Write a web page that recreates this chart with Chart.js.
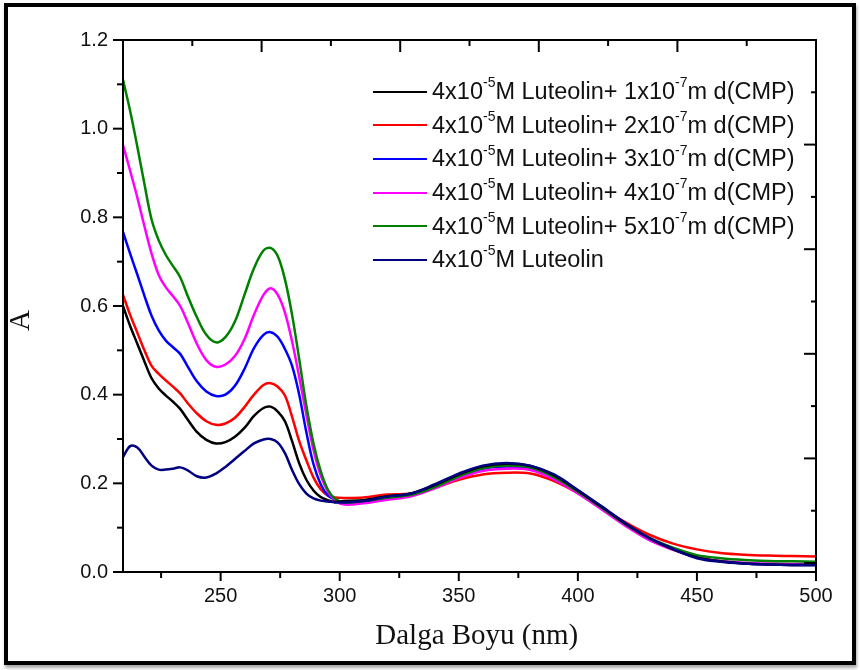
<!DOCTYPE html>
<html>
<head>
<meta charset="utf-8">
<title>Luteolin + d(CMP) absorbance</title>
<script src="https://cdn.jsdelivr.net/npm/chart.js@4.4.1/dist/chart.umd.min.js"></script>
<style>
  html, body { margin: 0; padding: 0; background: #fff; overflow: hidden; }
  #wrap { position: relative; width: 860px; height: 670px; }
  #frame { position: absolute; left: 4px; top: 3px; width: 844px; height: 654px;
           border: 4px solid #000; box-shadow: 1px 3px 3px rgba(0,0,0,0.35); pointer-events: none; }
  #legend { position: absolute; left: 373px; top: 75px; color: #111;
            font-family: 'Liberation Sans', Arial, sans-serif; font-size: 23.5px; }
  .row { display: flex; align-items: center; height: 33.6px; white-space: nowrap; }
  .swatch { width: 54px; height: 0; border-top: 2.5px solid; margin-right: 5px; }
  .row sup { font-size: 14px; position: relative; top: -3px; line-height: 0; vertical-align: super; }
</style>
</head>
<body>
<div id="wrap">
  <canvas id="spectrum" width="860" height="670"></canvas>
  <div id="legend"></div>
  <div id="frame"></div>
</div>
<script>
// wavelength (nm)
const wavelengths = [209, 212, 215, 218, 221, 224, 227, 230, 233, 236,
                     240, 244, 248, 252, 256, 260, 264, 268,
                     271, 274, 277, 280, 283, 286, 289, 292, 295, 298,
                     302,
                     310, 320, 330, 340, 350, 360, 370, 380, 390, 400,
                     410, 420, 430, 440, 450, 460, 470, 480, 490, 500];

// absorbance per solution
const cmp1 = [0.600, 0.555, 0.515, 0.475, 0.437, 0.414, 0.398, 0.384, 0.368, 0.345,
              0.316, 0.298, 0.290, 0.293, 0.305, 0.325, 0.352, 0.370,
              0.373, 0.362, 0.340, 0.295, 0.245, 0.208, 0.184, 0.169, 0.162, 0.158,
              0.160,
              0.162, 0.171, 0.177, 0.196, 0.220, 0.238, 0.244, 0.239, 0.218, 0.184,
              0.147, 0.109, 0.076, 0.051, 0.033, 0.024, 0.019, 0.017, 0.016, 0.016];
const cmp2 = [0.625, 0.580, 0.540, 0.500, 0.465, 0.447, 0.432, 0.418, 0.403, 0.382,
              0.358, 0.340, 0.332, 0.335, 0.348, 0.372, 0.400, 0.422,
              0.426, 0.418, 0.398, 0.350, 0.295, 0.252, 0.213, 0.187, 0.173, 0.168,
              0.167,
              0.168, 0.175, 0.177, 0.190, 0.208, 0.220, 0.224, 0.222, 0.205, 0.178,
              0.145, 0.112, 0.084, 0.064, 0.051, 0.043, 0.039, 0.037, 0.036, 0.035];
const cmp3 = [0.767, 0.718, 0.671, 0.623, 0.578, 0.545, 0.522, 0.507, 0.492, 0.465,
              0.430, 0.407, 0.397, 0.400, 0.420, 0.458, 0.505, 0.535,
              0.541, 0.530, 0.503, 0.465, 0.400, 0.315, 0.243, 0.198, 0.173, 0.163,
              0.155,
              0.158, 0.166, 0.174, 0.193, 0.216, 0.233, 0.238, 0.234, 0.213, 0.180,
              0.144, 0.106, 0.074, 0.051, 0.033, 0.024, 0.019, 0.017, 0.016, 0.016];
const cmp4 = [0.963, 0.905, 0.845, 0.780, 0.718, 0.670, 0.642, 0.622, 0.600, 0.565,
              0.515, 0.478, 0.463, 0.468, 0.487, 0.525, 0.580, 0.625,
              0.640, 0.625, 0.585, 0.520, 0.440, 0.355, 0.275, 0.218, 0.182, 0.162,
              0.152,
              0.155, 0.163, 0.171, 0.189, 0.212, 0.228, 0.233, 0.230, 0.209, 0.177,
              0.141, 0.104, 0.072, 0.050, 0.033, 0.025, 0.021, 0.019, 0.018, 0.018];
const cmp5 = [1.110, 1.040, 0.960, 0.875, 0.795, 0.748, 0.715, 0.690, 0.665, 0.625,
              0.575, 0.535, 0.518, 0.530, 0.565, 0.625, 0.685, 0.725,
              0.731, 0.712, 0.660, 0.580, 0.480, 0.375, 0.290, 0.228, 0.186, 0.165,
              0.157,
              0.160, 0.168, 0.174, 0.192, 0.216, 0.234, 0.240, 0.236, 0.214, 0.181,
              0.145, 0.108, 0.077, 0.055, 0.038, 0.031, 0.027, 0.025, 0.024, 0.023];
const luteolin = [0.259, 0.284, 0.281, 0.260, 0.240, 0.231, 0.231, 0.233, 0.236, 0.230,
                  0.216, 0.213, 0.222, 0.237, 0.255, 0.273, 0.290, 0.299,
                  0.300, 0.292, 0.268, 0.230, 0.198, 0.177, 0.166, 0.161, 0.159, 0.157,
                  0.157,
                  0.160, 0.170, 0.177, 0.198, 0.222, 0.240, 0.246, 0.240, 0.220, 0.185,
                  0.148, 0.110, 0.077, 0.052, 0.031, 0.023, 0.019, 0.017, 0.016, 0.016];

// axis ticks
const xTicks = [250, 300, 350, 400, 450, 500];
const xMinor = [225, 275, 325, 375, 425, 475];
const yTicks = [0, 0.2, 0.4, 0.6, 0.8, 1.0, 1.2];
const yMinor = [0.1, 0.3, 0.5, 0.7, 0.9, 1.1];

// legend: d(CMP) multiplier (null = luteolin alone)
const seriesNames = ['1', '2', '3', '4', '5', null];
const seriesColors = ['#000000', '#ff0000', '#0000ff', '#ff00ff', '#008000', '#000080'];
const seriesData = [cmp1, cmp2, cmp3, cmp4, cmp5, luteolin];
// navy drawn on top, then black, green, magenta, blue, red
const seriesOrder = [1, 5, 4, 3, 2, 0];

function toPoints(values) {
    return values.map((v, i) => ({ x: wavelengths[i], y: v }));
}

// Axis box and tick marks, positioned with the chart's scales
const axisFrame = {
    id: 'axisFrame',
    afterDraw(chart) {
        const { ctx, chartArea: a, scales } = chart;
        ctx.save();
        ctx.strokeStyle = '#000';
        ctx.lineWidth = 2;
        ctx.strokeRect(a.left, a.top, a.right - a.left, a.bottom - a.top);

        const line = (x1, y1, x2, y2) => {
            ctx.beginPath();
            ctx.moveTo(x1, y1);
            ctx.lineTo(x2, y2);
            ctx.stroke();
        };

        // bottom (outward)
        xTicks.forEach(v => { const p = scales.x.getPixelForValue(v); line(p, a.bottom, p, a.bottom + 9); });
        xMinor.forEach(v => { const p = scales.x.getPixelForValue(v); line(p, a.bottom, p, a.bottom + 6); });
        // left (outward)
        yTicks.forEach(v => { const p = scales.y.getPixelForValue(v); line(a.left - 10, p, a.left, p); });
        yMinor.forEach(v => { const p = scales.y.getPixelForValue(v); line(a.left - 6, p, a.left, p); });
        // top (inward) - separate scale
        for (let v = 1; v < 10; v++) {
            const p = scales.xTop.getPixelForValue(v);
            line(p, a.top, p, a.top + (v % 2 === 0 ? 12 : 6));
        }
        // right (inward) - separate scale
        for (let v = 0; v < 10; v++) {
            const p = scales.yRight.getPixelForValue(v);
            line(a.right - (v % 2 === 0 ? 12 : 5), p, a.right, p);
        }
        ctx.restore();
    }
};

const datasets = seriesData.map((d, i) => ({
    label: seriesNames[i] ? `4x10-5M Luteolin+ ${seriesNames[i]}x10-7m d(CMP)` : '4x10-5M Luteolin',
    data: toPoints(d),
    borderColor: seriesColors[i],
    borderWidth: 2.5,
    pointRadius: 0,
    fill: false,
    tension: 0.35,
    order: seriesOrder[i]
}));

const tickFont = { family: "'Liberation Sans', Arial, sans-serif", size: 20 };
const titleFont = { family: "'Liberation Serif', 'Times New Roman', serif", size: 29 };

new Chart(document.getElementById('spectrum'), {
    type: 'line',
    data: { datasets: datasets },
    options: {
        responsive: false,
        animation: false,
        layout: { padding: { top: 40, right: 44, left: 0, bottom: 0 } },
        plugins: {
            legend: { display: false },
            tooltip: { enabled: false }
        },
        scales: {
            x: {
                type: 'linear',
                position: 'bottom',
                min: 209,
                max: 500,
                afterBuildTicks: scale => { scale.ticks = xTicks.map(v => ({ value: v })); },
                afterFit: scale => { scale.height = 98; },
                grid: { display: false, drawTicks: false },
                border: { display: false },
                ticks: { font: tickFont, color: '#111', padding: 12, maxRotation: 0, autoSkip: false },
                title: { display: true, text: '\u2002Dalga Boyu (nm)', font: titleFont, color: '#111', padding: { bottom: 16 } }
            },
            y: {
                type: 'linear',
                position: 'left',
                min: 0,
                max: 1.2,
                afterBuildTicks: scale => { scale.ticks = yTicks.map(v => ({ value: v })); },
                afterFit: scale => { scale.width = 123; },
                grid: { display: false, drawTicks: false },
                border: { display: false },
                ticks: { font: tickFont, color: '#111', padding: 15, callback: v => v.toFixed(1) },
                title: { display: true, text: 'A\u2003', font: titleFont, color: '#111', padding: { top: 4 } }
            },
            xTop: { type: 'linear', display: false, position: 'top', min: 0, max: 10 },
            yRight: { type: 'linear', display: false, position: 'right', min: -0.172, max: 10 }
        }
    },
    plugins: [axisFrame]
});

// HTML legend with superscript exponents
const legend = document.getElementById('legend');
seriesNames.forEach((n, i) => {
    const row = document.createElement('div');
    row.className = 'row';
    const text = n
        ? `4x10<sup>-5</sup>M Luteolin+ ${n}x10<sup>-7</sup>m d(CMP)`
        : '4x10<sup>-5</sup>M Luteolin';
    row.innerHTML = `<span class="swatch" style="border-color:${seriesColors[i]}"></span><span>${text}</span>`;
    legend.appendChild(row);
});
</script>
</body>
</html>
